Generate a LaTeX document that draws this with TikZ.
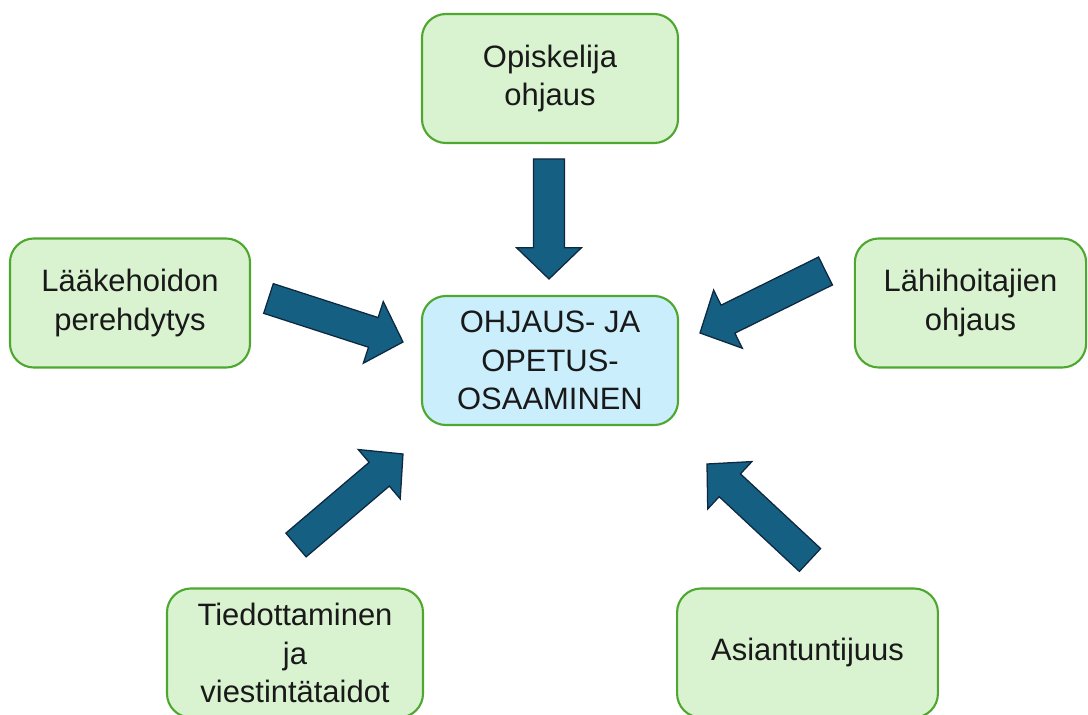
\documentclass[tikz,border=0pt]{standalone}
\usepackage{fontspec}
\setmainfont{Liberation Sans}
\usetikzlibrary{calc}

\definecolor{boxgreen}{HTML}{D9F2D0}
\definecolor{edgegreen}{HTML}{4EA72E}
\definecolor{coreblue}{HTML}{CAEEFB}
\definecolor{arrowblue}{HTML}{156082}
\definecolor{arrowedge}{HTML}{0E2841}

% block arrow from tail #2 to tip #3 (style #1)
\newcommand{\blockarrow}[3][]{%
  \path[bigarrow,#1] ($(#2)!0.39cm!90:(#3)$)
    -- ($(#3)!0.78cm!(#2)!0.39cm!-90:(#2)$)
    -- ($(#3)!0.78cm!(#2)!0.81cm!-90:(#2)$)
    -- (#3)
    -- ($(#3)!0.78cm!(#2)!0.81cm!90:(#2)$)
    -- ($(#3)!0.78cm!(#2)!0.39cm!90:(#2)$)
    -- ($(#2)!0.39cm!-90:(#3)$) -- cycle;}

\begin{document}
\begin{tikzpicture}[
        x=0.025cm, y=-0.025cm,
        block/.style={rectangle, draw=edgegreen, line width=1.5pt, rounded corners=0.6cm, fill=boxgreen,
                      align=center, text=black!90, minimum height=3.225cm, minimum width=6.4cm,
                      font=\fontsize{22}{27.6}\selectfont},
        core/.style={block, fill=coreblue},
        bigarrow/.style={fill=arrowblue, draw=arrowedge, line width=0.9pt, line join=miter}
    ]
    \useasboundingbox (0,0) rectangle (1088,715);

    % nodes
    \node[core] (osaaminen) at (550,360.5) {OHJAUS- JA\\OPETUS-\\OSAAMINEN};
    \node[block] (opiskelija) at (550,78.5) {Opiskelija\\ohjaus};
    \node[block, minimum width=6cm] (laake) at (130,303) {Lääkehoidon\\perehdytys};
    \node[block, minimum width=5.78cm] (lahi) at (970.5,303) {Lähihoitajien\\ohjaus};
    \node[block] (tiedotus) at (295,653) {Tiedottaminen\\ja\\viestintätaidot};
    \node[block, minimum width=6.52cm] (asiantuntijuus) at (807.5,653) {Asiantuntijuus};

    % arrow ends
    \coordinate (opiskelija-t) at (549,159);
    \coordinate (opiskelija-h) at (549,279);
    \coordinate (laake-t) at (268.5,298.5);
    \coordinate (laake-h) at (403,342);
    \coordinate (lahi-t) at (825.5,271);
    \coordinate (lahi-h) at (700,333);
    \coordinate (tiedotus-t) at (296,545);
    \coordinate (tiedotus-h) at (403,454);
    \coordinate (asiantuntijuus-t) at (810,560);
    \coordinate (asiantuntijuus-h) at (707,464);

    % arrows
    \blockarrow{opiskelija-t}{opiskelija-h}
    \blockarrow{laake-t}{laake-h}
    \blockarrow{lahi-t}{lahi-h}
    \blockarrow{tiedotus-t}{tiedotus-h}
    \blockarrow{asiantuntijuus-t}{asiantuntijuus-h}

\end{tikzpicture}
\end{document}
